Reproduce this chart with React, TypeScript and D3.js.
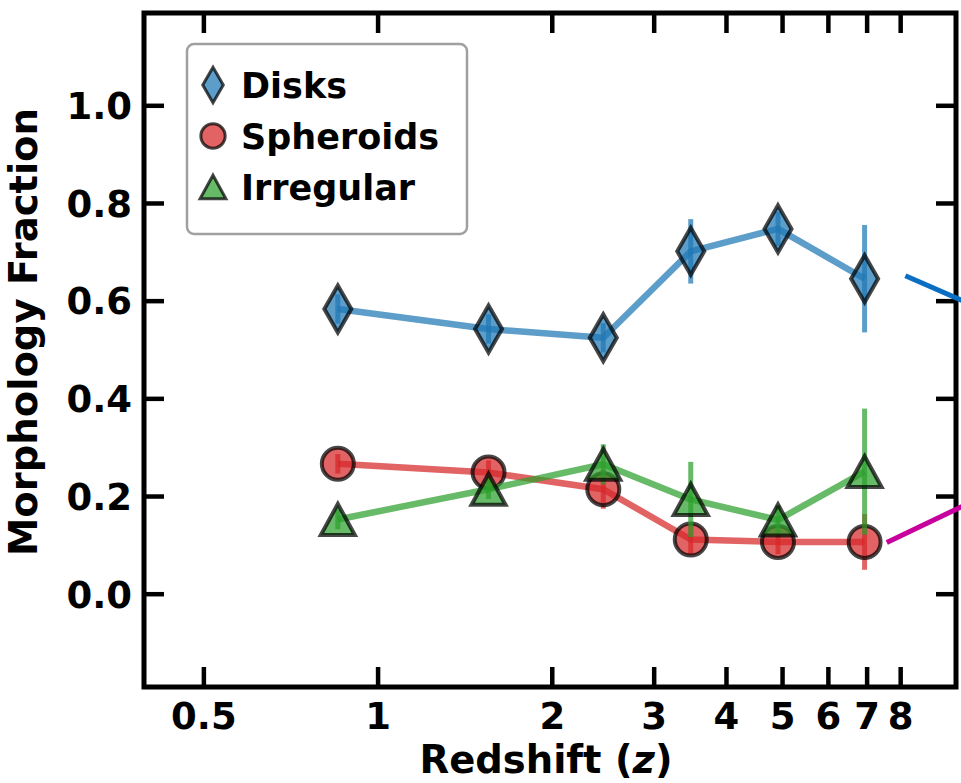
import React from 'react';
import * as d3 from 'd3';

// redshift bins (median z per bin)
const redshifts = [0.852, 1.552, 2.45, 3.47, 4.91, 6.93];

const disks = [0.584, 0.543, 0.525, 0.702, 0.748, 0.646];
const disksErr = [0.03, 0.03, 0.03, 0.066, 0.035, 0.11];

const spheroids = [0.267, 0.249, 0.215, 0.112, 0.107, 0.107];
const spheroidsErr = [0.02, 0.025, 0.04, 0.03, 0.025, 0.057];

const irregular = [0.153, 0.215, 0.266, 0.194, 0.152, 0.251];
const irregularErr = [0.02, 0.02, 0.041, 0.077, 0.03, 0.129];

const xTicks = [0.5, 1, 2, 3, 4, 5, 6, 7, 8];
const yTicks = [0.0, 0.2, 0.4, 0.6, 0.8, 1.0];

// two lines that run in from the panel to the right
const blueTrailZ = [8.15, 11];
const blueTrailV = [0.652, 0.585];
const magentaTrailZ = [7.57, 11];
const magentaTrailV = [0.106, 0.198];

const W = 961;
const H = 783;
const frame = { left: 144, right: 956, top: 13, bottom: 687 };

const FONT = "'DejaVu Sans', sans-serif";

type Shape = 'diamond' | 'circle' | 'triangle';

function markerPath(shape: Shape, s: number) {
  if (shape === 'diamond') {
    const hh = 23.5 * s, hw = 13.5 * s;
    return `M0,${-hh}L${hw},0L0,${hh}L${-hw},0Z`;
  }
  if (shape === 'triangle') {
    const hh = 15.5 * s, hw = 17 * s;
    return `M0,${-hh}L${hw},${hh}L${-hw},${hh}Z`;
  }
  const r = 16 * s;
  return `M${r},0A${r},${r} 0 1,1 ${-r},0A${r},${r} 0 1,1 ${r},0Z`;
}

const series = [
  { name: 'Disks', values: disks, err: disksErr, color: '#1f77b4', shape: 'diamond' as Shape },
  { name: 'Spheroids', values: spheroids, err: spheroidsErr, color: '#d62728', shape: 'circle' as Shape },
  { name: 'Irregular', values: irregular, err: irregularErr, color: '#2ca02c', shape: 'triangle' as Shape },
];

export default function App() {
  const x = d3.scaleLog().domain([0.394, 9.97]).range([frame.left, frame.right]);
  const y = d3.scaleLinear().domain([-0.19, 1.19]).range([frame.bottom, frame.top]);

  const line = d3
    .line<[number, number]>()
    .x((d) => x(d[0]))
    .y((d) => y(d[1]));

  const alpha = 0.72;
  const tickLen = 20;

  return (
    <div style={{ position: 'fixed', left: 0, top: 0 }}>
      <svg width={W} height={H} style={{ display: 'block', background: '#fff' }}>
        {/* series */}
        {series.map((s) => {
          const pts = redshifts.map((z, i) => [z, s.values[i]] as [number, number]);
          return (
            <g key={s.name}>
              <path
                d={line(pts) || ''}
                fill="none"
                stroke={s.color}
                strokeOpacity={alpha}
                strokeWidth={6.5}
                strokeLinejoin="round"
              />
              {redshifts.map((z, i) => (
                <line
                  key={'e' + i}
                  x1={x(z)}
                  x2={x(z)}
                  y1={y(s.values[i] - s.err[i])}
                  y2={y(s.values[i] + s.err[i])}
                  stroke={s.color}
                  strokeOpacity={alpha}
                  strokeWidth={5}
                />
              ))}
              {redshifts.map((z, i) => (
                <path
                  key={'m' + i}
                  d={markerPath(s.shape, 1)}
                  transform={`translate(${x(z)},${y(s.values[i])})`}
                  fill={s.color}
                  fillOpacity={alpha}
                  stroke="#000"
                  strokeOpacity={0.72}
                  strokeWidth={4}
                  strokeLinejoin="miter"
                />
              ))}
            </g>
          );
        })}

        {/* frame */}
        <rect
          x={frame.left}
          y={frame.top}
          width={frame.right - frame.left}
          height={frame.bottom - frame.top}
          fill="none"
          stroke="#000"
          strokeWidth={5}
        />

        {/* x ticks, bottom and top, pointing inward */}
        {xTicks.map((t) => (
          <g key={'xt' + t}>
            <line x1={x(t)} x2={x(t)} y1={frame.bottom} y2={frame.bottom - tickLen} stroke="#000" strokeWidth={4.5} />
            <line x1={x(t)} x2={x(t)} y1={frame.top} y2={frame.top + tickLen} stroke="#000" strokeWidth={4.5} />
            <text
              x={x(t)}
              y={729}
              textAnchor="middle"
              fontFamily={FONT}
              fontWeight="bold"
              fontSize={37}
              fill="#000"
            >
              {String(t)}
            </text>
          </g>
        ))}

        {/* y ticks, left and right */}
        {yTicks.map((t) => (
          <g key={'yt' + t}>
            <line x1={frame.left} x2={frame.left + tickLen} y1={y(t)} y2={y(t)} stroke="#000" strokeWidth={4.5} />
            <line x1={frame.right} x2={frame.right - tickLen} y1={y(t)} y2={y(t)} stroke="#000" strokeWidth={4.5} />
            <text
              x={frame.left - 12}
              y={y(t)}
              dy="0.36em"
              textAnchor="end"
              fontFamily={FONT}
              fontWeight="bold"
              fontSize={37}
              fill="#000"
            >
              {t.toFixed(1)}
            </text>
          </g>
        ))}

        {/* axis labels */}
        <text
          x={546}
          y={773}
          textAnchor="middle"
          fontFamily={FONT}
          fontWeight="bold"
          fontSize={38.5}
          fill="#000"
        >
          Redshift (<tspan fontStyle="italic">z</tspan>)
        </text>
        <text
          transform="translate(37,332) rotate(-90)"
          textAnchor="middle"
          fontFamily={FONT}
          fontWeight="bold"
          fontSize={38.5}
          fill="#000"
        >
          Morphology Fraction
        </text>

        {/* legend */}
        <g>
          <rect x={187} y={44} width={280} height={190} rx={7} fill="#fff" fillOpacity={0.8} stroke="#a0a0a0" strokeWidth={2.5} />
          {series.map((s, i) => {
            const cy = 85 + i * 51;
            return (
              <g key={'lg' + s.name}>
                <path
                  d={markerPath(s.shape, 0.76)}
                  transform={`translate(213,${cy})`}
                  fill={s.color}
                  fillOpacity={alpha}
                  stroke="#000"
                  strokeOpacity={0.72}
                  strokeWidth={3}
                />
                <text
                  x={241}
                  y={cy}
                  dy="0.36em"
                  fontFamily={FONT}
                  fontWeight="bold"
                  fontSize={35}
                  fill="#000"
                >
                  {s.name}
                </text>
              </g>
            );
          })}
        </g>

        {/* lines coming in from the neighbouring panel */}
        <path
          d={line(blueTrailZ.map((z, i) => [z, blueTrailV[i]] as [number, number])) || ''}
          stroke="#0a6fc2"
          strokeWidth={5}
          fill="none"
        />
        <path
          d={line(magentaTrailZ.map((z, i) => [z, magentaTrailV[i]] as [number, number])) || ''}
          stroke="#c8009e"
          strokeWidth={5}
          fill="none"
        />
      </svg>
    </div>
  );
}
